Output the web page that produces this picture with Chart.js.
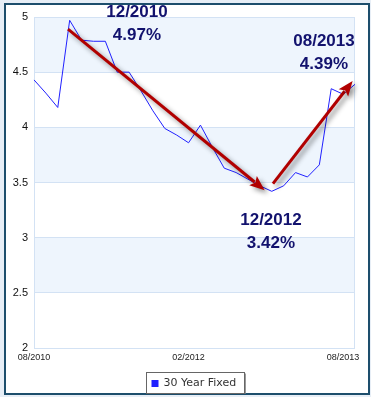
<!DOCTYPE html>
<html>
<head>
<meta charset="utf-8">
<script src="https://cdn.jsdelivr.net/npm/chart.js@4.4.0/dist/chart.umd.min.js"></script>
<style>
  html, body { margin: 0; padding: 0; background: #e7eef6; }
  #frame {
    position: absolute; left: 4px; top: 3px; width: 366px; height: 392px;
    box-sizing: border-box; border: 2px solid #1d4e6c; background: #fff;
  }
  #wrap { position: absolute; left: 0; top: 0; width: 371px; height: 397px; }
</style>
</head>
<body>
<div id="frame"></div>
<div id="wrap"><canvas id="rateChart"></canvas></div>
<script>
// x axis labels (only a few are shown)
const monthLabels = [
  '08/2010', '', '', '', '', '', '', '', '', '', '', '', '',
  '02/2012', '', '', '', '', '', '', '', '', '', '', '', '',
  '08/2013', ''
];

// 30 year fixed rate, %
const rates = [
  4.43, 4.31, 4.18, 4.97, 4.79, 4.78, 4.78, 4.50, 4.50, 4.33,
  4.15, 3.99, 3.93, 3.86, 4.02, 3.82, 3.63, 3.59, 3.53, 3.47,
  3.42, 3.47, 3.59, 3.55, 3.66, 4.35, 4.30, 4.39
];

const seriesName = '30 Year Fixed';
const yMin = 2;
const yMax = 5;
const yStep = 0.5;

// call-outs, in data units (x = point index, y = rate)
const callouts = [
  { x: 8.66, y: 5.04, lines: ['12/2010', '4.97%'] },
  { x: 19.93, y: 3.16, lines: ['12/2012', '3.42%'] },
  { x: 24.39, y: 4.78, lines: ['08/2013', '4.39%'] }
];

const trendArrows = [
  { from: [2.86, 4.89], to: [19.4, 3.43] },
  { from: [20.1, 3.49], to: [26.8, 4.42] }
];

const GRID = '#d3e2f4';
const BAND = '#eef5fd';

// shaded bands between every other gridline
const bandsPlugin = {
  id: 'bands',
  beforeDraw(chart) {
    const { ctx, chartArea, scales } = chart;
    const y = scales.y;
    ctx.save();
    ctx.fillStyle = BAND;
    for (let v = yMax; v > yMin; v -= 2 * yStep) {
      const top = y.getPixelForValue(v);
      const bot = y.getPixelForValue(v - yStep);
      ctx.fillRect(chartArea.left, top, chartArea.right - chartArea.left, bot - top);
    }
    ctx.restore();
  },
  beforeDatasetsDraw(chart) {
    const { ctx, chartArea } = chart;
    ctx.save();
    ctx.strokeStyle = GRID;
    ctx.lineWidth = 1;
    ctx.strokeRect(chartArea.left + 0.5, chartArea.top + 0.5,
      chartArea.right - chartArea.left - 1, chartArea.bottom - chartArea.top);
    ctx.restore();
  }
};

function drawArrow(ctx, x1, y1, x2, y2) {
  const ang = Math.atan2(y2 - y1, x2 - x1);
  const headLen = 15;
  const headW = 6;
  const bx = x2 - headLen * Math.cos(ang);
  const by = y2 - headLen * Math.sin(ang);
  ctx.beginPath();
  ctx.moveTo(x1, y1);
  ctx.lineTo(bx + 2 * Math.cos(ang), by + 2 * Math.sin(ang));
  ctx.stroke();
  ctx.beginPath();
  ctx.moveTo(x2, y2);
  ctx.lineTo(bx + headW * Math.sin(ang), by - headW * Math.cos(ang));
  ctx.lineTo(bx + 3 * Math.cos(ang), by + 3 * Math.sin(ang));
  ctx.lineTo(bx - headW * Math.sin(ang), by + headW * Math.cos(ang));
  ctx.closePath();
  ctx.fill();
}

const notesPlugin = {
  id: 'notes',
  afterDraw(chart) {
    const { ctx, scales, chartArea } = chart;
    const xs = scales.x, ys = scales.y;

    // arrows with a soft shadow
    ctx.save();
    ctx.strokeStyle = '#b10000';
    ctx.fillStyle = '#b10000';
    ctx.lineWidth = 3;
    ctx.shadowColor = 'rgba(0,0,0,0.45)';
    ctx.shadowBlur = 5;
    ctx.shadowOffsetX = 3;
    ctx.shadowOffsetY = 3;
    trendArrows.forEach(a => {
      drawArrow(ctx,
        xs.getPixelForValue(a.from[0]), ys.getPixelForValue(a.from[1]),
        xs.getPixelForValue(a.to[0]), ys.getPixelForValue(a.to[1]));
    });
    ctx.restore();

    // call-out text
    ctx.save();
    ctx.font = 'bold 17px "Liberation Sans", Arial, sans-serif';
    ctx.fillStyle = '#12126e';
    ctx.textAlign = 'center';
    ctx.textBaseline = 'middle';
    callouts.forEach(c => {
      const px = xs.getPixelForValue(c.x);
      const py = ys.getPixelForValue(c.y);
      c.lines.forEach((t, i) => ctx.fillText(t, px, py + i * 23));
    });
    ctx.restore();

    // legend box
    ctx.save();
    ctx.font = '11px "DejaVu Sans", Verdana, sans-serif';
    const tw = ctx.measureText(seriesName).width;
    const bw = Math.round(5 + 7 + 5 + tw + 8);
    const cx = (chartArea.left + chartArea.right) / 2;
    const x0 = Math.round(cx - bw / 2) + 0.5;
    const y0 = 372.5;
    const bh = 21;
    ctx.fillStyle = '#fff';
    ctx.fillRect(x0, y0, bw, bh);
    ctx.strokeStyle = '#666';
    ctx.lineWidth = 1;
    ctx.strokeRect(x0, y0, bw, bh);
    ctx.strokeStyle = '#999';
    ctx.beginPath();
    ctx.moveTo(x0 + bw + 1, y0 + 1);
    ctx.lineTo(x0 + bw + 1, y0 + bh);
    ctx.stroke();
    ctx.fillStyle = chart.data.datasets[0].borderColor;
    ctx.fillRect(x0 + 5, y0 + 7.5, 7, 7);
    ctx.fillStyle = '#333';
    ctx.textBaseline = 'middle';
    ctx.fillText(seriesName, x0 + 17, y0 + 11);
    ctx.restore();
  }
};

new Chart(document.getElementById('rateChart'), {
  type: 'line',
  data: {
    labels: monthLabels,
    datasets: [{
      label: seriesName,
      data: rates,
      borderColor: '#2020ff',
      borderWidth: 1,
      pointRadius: 0,
      tension: 0,
      fill: false
    }]
  },
  options: {
    responsive: true,
    maintainAspectRatio: false,
    animation: false,
    devicePixelRatio: 1,
    layout: { padding: { top: 17, right: 16, left: 0, bottom: 0 } },
    plugins: {
      legend: { display: false },
      tooltip: { enabled: false }
    },
    scales: {
      x: {
        type: 'category',
        offset: false,
        grid: { display: false, drawTicks: false },
        border: { display: false },
        ticks: {
          autoSkip: false,
          maxRotation: 0,
          padding: 4,
          color: '#222',
          font: { family: '"Liberation Sans", Arial, sans-serif', size: 9 },
          callback: (v, i) => monthLabels[i]
        },
        afterFit: s => { s.height = 49; }
      },
      y: {
        min: yMin,
        max: yMax,
        grid: { color: GRID, drawTicks: false },
        border: { color: GRID },
        ticks: {
          stepSize: yStep,
          padding: 6,
          color: '#111',
          font: { family: '"Liberation Sans", Arial, sans-serif', size: 11 },
          callback: v => String(Number(v.toFixed(1)))
        },
        afterFit: s => { s.width = 34; }
      }
    }
  },
  plugins: [bandsPlugin, notesPlugin]
});
</script>
</body>
</html>
